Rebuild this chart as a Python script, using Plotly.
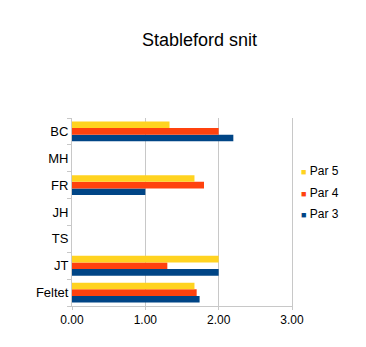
import plotly.graph_objects as go

categories = ["Feltet", "JT", "TS", "JH", "FR", "MH", "BC"]
par3 = [1.74, 2.00, None, None, 1.00, None, 2.20]
par4 = [1.70, 1.30, None, None, 1.80, None, 2.00]
par5 = [1.67, 2.00, None, None, 1.67, None, 1.33]
series_names = ["Par 3", "Par 4", "Par 5"]
series_colors = ["#004586", "#FF420E", "#FFD320"]
x_ticks = [0, 1, 2, 3]
x_tick_labels = ["0.00", "1.00", "2.00", "3.00"]

fig = go.Figure()
for vals, name, col in zip([par3, par4, par5], series_names, series_colors):
    fig.add_trace(go.Bar(y=categories, x=vals, orientation="h", name=name,
                         showlegend=False, marker=dict(color=col, line=dict(width=0))))

# legend drawn as text: Par 5 at top, Par 3 at bottom
L, R, T, B = 72, 292, 118, 306
legend_px_y = {"Par 5": 171, "Par 4": 192.5, "Par 3": 213.5}
annotations = []
for name, col in zip(series_names, series_colors):
    annotations.append(dict(
        xref="paper", yref="paper",
        x=(299 - L) / (R - L), y=(B - legend_px_y[name]) / (B - T),
        xanchor="left", yanchor="middle", showarrow=False,
        text=f"<span style='color:{col};font-size:9px'>■</span> {name}",
        font=dict(size=12, color="#000000"),
    ))

fig.update_layout(
    width=366, height=347,
    margin=dict(l=L, r=366 - R, t=T, b=347 - B, autoexpand=False),
    paper_bgcolor="white", plot_bgcolor="white",
    font=dict(family="Liberation Sans, Arial, sans-serif", color="#000000"),
    title=dict(text="Stableford snit", x=0.545, xanchor="center", y=1 - 40/347, yanchor="middle",
               font=dict(size=18)),
    barmode="group", bargap=0.26, bargroupgap=0,
    showlegend=False,
    annotations=annotations,
    xaxis=dict(range=[0, 3], tickvals=x_ticks, ticktext=x_tick_labels,
               showgrid=True, gridcolor="#c8c8c8", gridwidth=1, zeroline=False,
               showline=True, linecolor="#c8c8c8", linewidth=1,
               ticks="outside", ticklen=3, tickcolor="#c8c8c8", tickfont=dict(size=12)),
    yaxis=dict(type="category", categoryorder="array", categoryarray=categories,
               showgrid=False, zeroline=False, showline=True, mirror=True,
               linecolor="#c8c8c8", linewidth=1,
               ticks="outside", tickson="boundaries", ticklen=4, tickcolor="#c8c8c8",
               tickfont=dict(size=13)),
)

fig.write_html("out.html")
